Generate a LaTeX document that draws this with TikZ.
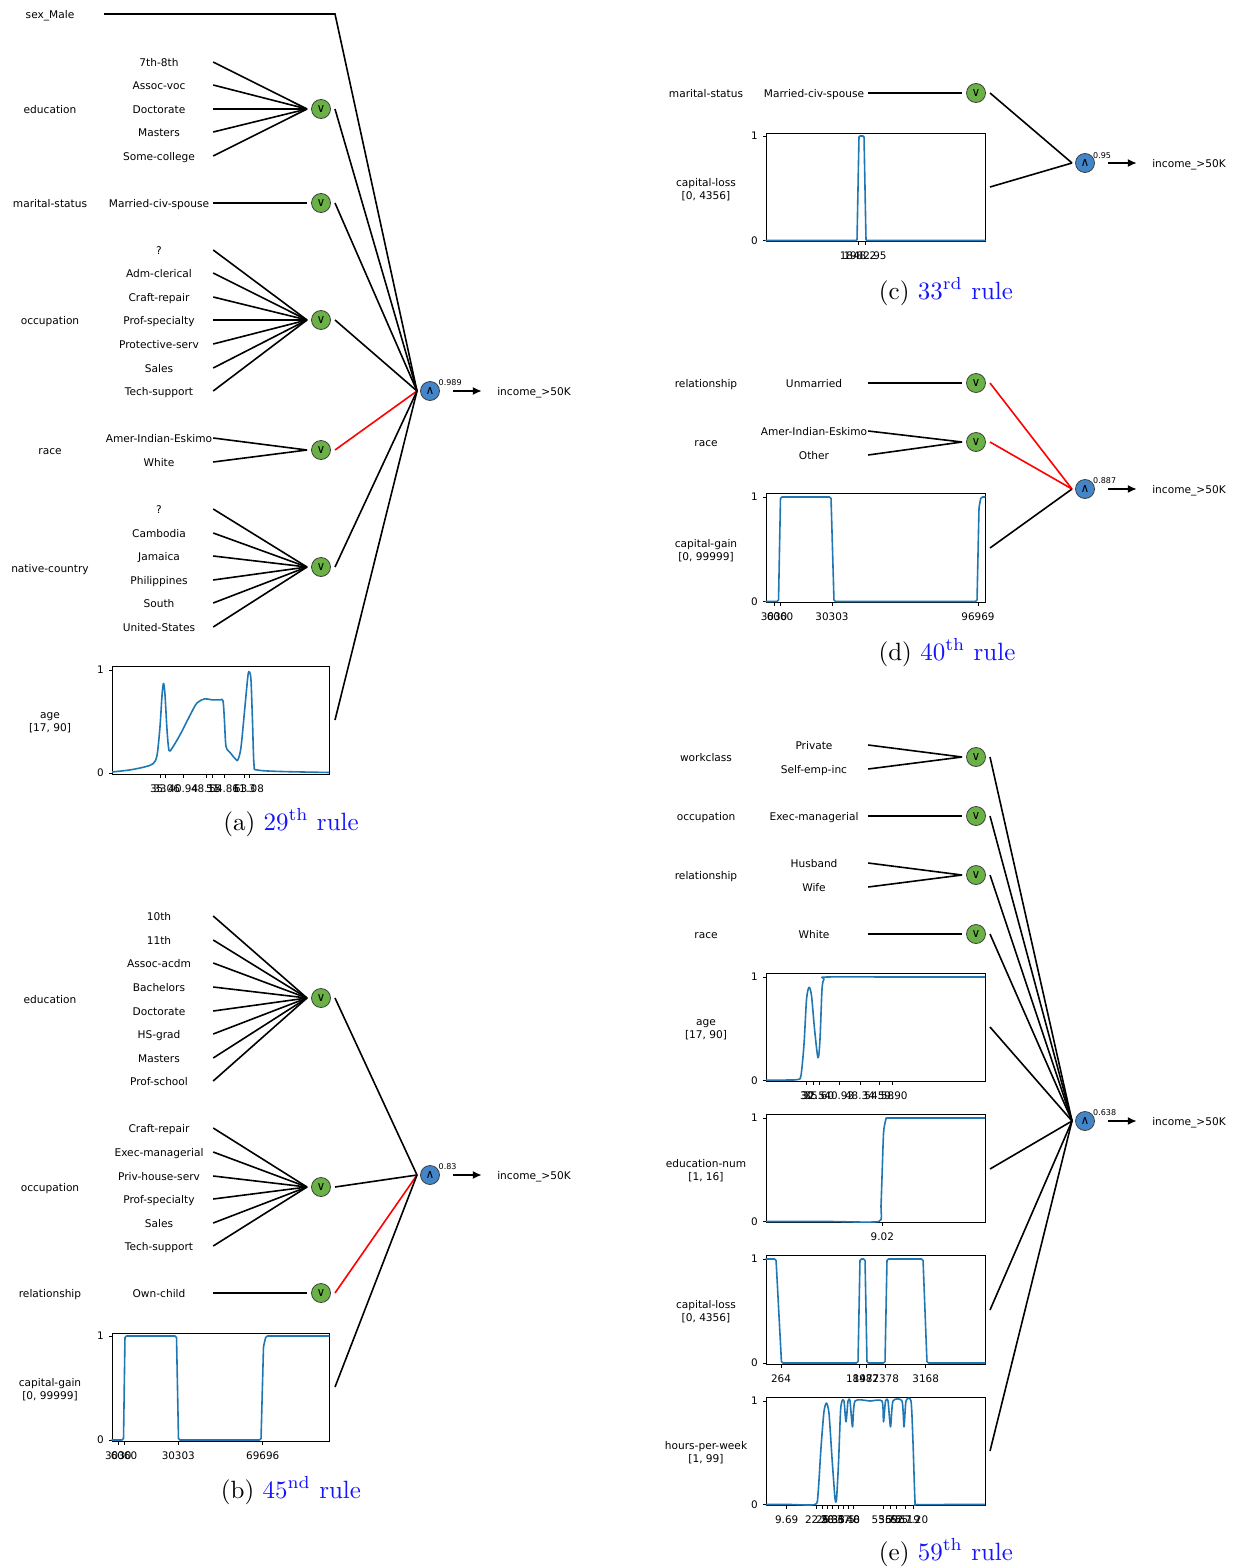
\documentclass[tikz,border=0pt]{standalone}
\usepackage{fontspec}
\usepackage{graphicx}
\usetikzlibrary{arrows.meta}
\newfontfamily\mplfont{DejaVu Sans}
\definecolor{orgreen}{RGB}{106,178,70}
\definecolor{andblue}{RGB}{66,133,200}
\definecolor{curveblue}{RGB}{31,119,180}
\definecolor{capblue}{RGB}{20,20,255}
\newcounter{tk}

\tikzset{
  lbl/.style={font=\mplfont\fontsize{10.6}{13}\selectfont, inner sep=0pt, text height=11.8pt, text depth=2.2pt},
  feat/.style={lbl, minimum width=108pt},
  featm/.style={font=\mplfont\fontsize{10.6}{13}\selectfont, inner sep=0pt, align=center, yshift=-2pt},
  val/.style={lbl, minimum width=108pt},
  ornode/.style={circle, draw=black!75, fill=orgreen, minimum size=19pt, inner sep=0pt,
                 outer sep=4.5pt, line width=0.8pt, font=\mplfont\fontsize{12}{12}\selectfont},
  andnode/.style={circle, draw=black!75, fill=andblue, minimum size=19pt, inner sep=0pt,
                 outer sep=3.5pt, line width=0.8pt, font=\mplfont\fontsize{12}{12}\selectfont},
  wire/.style={line width=1.6pt, black},
  redwire/.style={line width=1.6pt, red},
  outarrow/.style={line width=1.6pt, black, -{Latex[length=9pt,width=8pt]}},
  weightlbl/.style={font=\mplfont\fontsize{8}{9}\selectfont, anchor=west, inner sep=0pt, text height=5.8pt, text depth=0pt},
  frame/.style={line width=0.9pt, black},
  tickln/.style={line width=0.9pt, black},
  ticklbl/.style={font=\mplfont\fontsize{10.4}{12}\selectfont, inner sep=0pt, text height=7.6pt, text depth=0pt},
  curve/.style={curveblue, line width=1.6pt, line join=round, line cap=round},
  captext/.style={font=\fontsize{10}{12}\selectfont, anchor=base, inner sep=0pt},
}

% sub-figure caption, set at 10pt and enlarged
\newcommand\subcap[3]{\scalebox{2.5}{(#1) \textcolor{capblue}{#2\textsuperscript{#3} rule}}}
% one tick below the x axis with its label
\newcommand\xtk[3]{\stepcounter{tk}%
  \draw[tickln] (#1,#2) -- (#1,#2+3.5);
  \node[ticklbl] (tk\thetk) at (#1,#2+15) {#3};}
% one tick left of the y axis with its label
\newcommand\ytk[3]{\stepcounter{tk}%
  \draw[tickln] (#1,#2) -- (#1-3.5,#2);
  \node[ticklbl, anchor=east] (tk\thetk) at (#1-8,#2) {#3};}
% axes frame: left, top, right, bottom, level of 1, level of 0
\newcommand\axesbox[6]{%
  \draw[frame] (#1,#2) rectangle (#3,#4);
  \ytk{#1}{#5}{1}\ytk{#1}{#6}{0}}
% values fanning into an OR node: prefix, x, OR node, list of text/y
\newcommand\valuefan[4]{%
  \foreach \vtext/\yy [count=\i] in {#4} {%
    \node[val] (#1-\i) at (#2,\yy) {\vtext};
    \draw[wire] (#1-\i.east) -- (#3.west);}}

\begin{document}
\begin{tikzpicture}[x=1pt,y=-1pt]
\fill[white] (0,0) rectangle (1236,1568);
\useasboundingbox (0,0) rectangle (1236,1568);

%% ---------------- (a) 29th rule ----------------
\node[andnode] (aA) at (430,391) {∧};
\node[weightlbl] (wA) at (438.5,383) {0.989};
\node[lbl, minimum width=104pt] (incA) at (534,391) {income\_>50K};
\draw[outarrow] ([xshift=10pt]aA.east) -- (incA.west);

\node[feat] (fA0) at (50,14) {sex\_Male};
\coordinate (bendA) at (335,14);
\draw[wire] (fA0.east) -- (bendA) -- (aA.west);

\node[feat] (fA1) at (50,109) {education};
\node[ornode] (oA1) at (321,109) {∨};
\valuefan{vA1}{159}{oA1}{7th-8th/62, Assoc-voc/85, Doctorate/109, Masters/132, Some-college/156}
\draw[wire] (oA1.east) -- (aA.west);

\node[feat] (fA2) at (50,203) {marital-status};
\node[ornode] (oA2) at (321,203) {∨};
\valuefan{vA2}{159}{oA2}{Married-civ-spouse/203}
\draw[wire] (oA2.east) -- (aA.west);

\node[feat] (fA3) at (50,320) {occupation};
\node[ornode] (oA3) at (321,320) {∨};
\valuefan{vA3}{159}{oA3}{?/250, Adm-clerical/273, Craft-repair/297, Prof-specialty/320, Protective-serv/344, Sales/368, Tech-support/391}
\draw[wire] (oA3.east) -- (aA.west);

\node[feat] (fA4) at (50,450) {race};
\node[ornode] (oA4) at (321,450) {∨};
\valuefan{vA4}{159}{oA4}{Amer-Indian-Eskimo/438, White/462}
\draw[redwire] (oA4.east) -- (aA.west);

\node[feat] (fA5) at (50,568) {native-country};
\node[ornode] (oA5) at (321,567) {∨};
\valuefan{vA5}{159}{oA5}{?/509, Cambodia/533, Jamaica/556, Philippines/580, South/603, United-States/627}
\draw[wire] (oA5.east) -- (aA.west);

\node[featm] (fA6) at (50,721) {age\\{}[17, 90]};
\axesbox{112}{666}{329}{774}{670}{773}
\begin{scope}[yshift=-773pt, y={(0pt,103pt)}]
  \clip (112,-0.05) rectangle (329,1.04);
  \draw[curve] plot[smooth, tension=0.5] coordinates {
    (112,0.01) (130,0.03) (145,0.06) (153,0.09) (157,0.17) (160,0.45) (162,0.75)
    (163.5,0.87) (165,0.76) (167,0.42) (169,0.22) (172,0.24) (180,0.37) (190,0.56)
    (197,0.68) (205,0.72) (212,0.71) (220,0.71) (223,0.70) (224.5,0.5) (226,0.26)
    (230,0.2) (236,0.13) (238,0.13) (241,0.25) (245,0.65) (248,0.95) (249.5,0.98)
    (251,0.9) (252.5,0.5) (254,0.08) (257,0.03) (280,0.015) (329,0.005)};
\end{scope}
\xtk{160}{774}{33}\xtk{165}{774}{35.06}\xtk{183.3}{774}{40.94}\xtk{206}{774}{48.15}
\xtk{212.7}{774}{51}\xtk{224.3}{774}{54.81}\xtk{244}{774}{61.3}\xtk{249}{774}{63.08}
\coordinate (pA) at (335,720);
\draw[wire] (pA) -- (aA.west);

\node[captext] (capA) at (291,830) {\subcap{a}{29}{th}};

%% ---------------- (b) 45nd rule ----------------
\node[andnode] (aB) at (430,1175) {∧};
\node[weightlbl] (wB) at (438.5,1167) {0.83};
\node[lbl, minimum width=104pt] (incB) at (534,1175) {income\_>50K};
\draw[outarrow] ([xshift=10pt]aB.east) -- (incB.west);

\node[feat] (fB1) at (50,999) {education};
\node[ornode] (oB1) at (321,998) {∨};
\valuefan{vB1}{159}{oB1}{10th/916, 11th/940, Assoc-acdm/963, Bachelors/987, Doctorate/1011, HS-grad/1034, Masters/1058, Prof-school/1081}
\draw[wire] (oB1.east) -- (aB.west);

\node[feat] (fB2) at (50,1187) {occupation};
\node[ornode] (oB2) at (321,1187) {∨};
\valuefan{vB2}{159}{oB2}{Craft-repair/1128, Exec-managerial/1152, Priv-house-serv/1176, Prof-specialty/1199, Sales/1223, Tech-support/1246}
\draw[wire] (oB2.east) -- (aB.west);

\node[feat] (fB3) at (50,1293) {relationship};
\node[ornode] (oB3) at (321,1293) {∨};
\valuefan{vB3}{159}{oB3}{Own-child/1293}
\draw[redwire] (oB3.east) -- (aB.west);

\node[featm] (fB4) at (50,1388) {capital-gain\\{}[0, 99999]};
\axesbox{112}{1333}{329}{1441}{1336}{1440}
\begin{scope}[yshift=-1440pt, y={(0pt,104pt)}]
  \draw[curve, rounded corners=1.5pt] (112,0) -- (123.5,0) -- (125,1) -- (176.5,1) -- (178.5,0)
    -- (261,0) -- (263.5,0.9) -- (266,1) -- (329,1);
\end{scope}
\xtk{118.3}{1441}{3030}\xtk{124}{1441}{6060}\xtk{178.3}{1441}{30303}\xtk{262.7}{1441}{69696}
\coordinate (pB) at (335,1387);
\draw[wire] (pB) -- (aB.west);

\node[captext] (capB) at (291,1498) {\subcap{b}{45}{nd}};

%% ---------------- (c) 33rd rule ----------------
\node[andnode] (aC) at (1085,163) {∧};
\node[weightlbl] (wC) at (1093,156) {0.95};
\node[lbl, minimum width=104pt] (incC) at (1189,163) {income\_>50K};
\draw[outarrow] ([xshift=10pt]aC.east) -- (incC.west);

\node[feat] (fC1) at (706,93) {marital-status};
\node[ornode] (oC1) at (976,93) {∨};
\valuefan{vC1}{814}{oC1}{Married-civ-spouse/93}
\draw[wire] (oC1.east) -- (aC.west);

\node[featm] (fC2) at (706,188) {capital-loss\\{}[0, 4356]};
\axesbox{766}{133}{985}{241}{136}{240.5}
\begin{scope}[yshift=-240.5pt, y={(0pt,104.5pt)}]
  \draw[curve, rounded corners=1pt] (766,0) -- (857,0) -- (859,1) -- (864,1) -- (866,0) -- (985,0);
\end{scope}
\xtk{858}{241}{1848.2}\xtk{865}{241}{1982.95}
\coordinate (pC) at (990,187);
\draw[wire] (pC) -- (aC.west);

\node[captext] (capC) at (946,299) {\subcap{c}{33}{rd}};

%% ---------------- (d) 40th rule ----------------
\node[andnode] (aD) at (1085,489) {∧};
\node[weightlbl] (wD) at (1093,481) {0.887};
\node[lbl, minimum width=104pt] (incD) at (1189,489) {income\_>50K};
\draw[outarrow] ([xshift=10pt]aD.east) -- (incD.west);

\node[feat] (fD1) at (706,383) {relationship};
\node[ornode] (oD1) at (976,383) {∨};
\valuefan{vD1}{814}{oD1}{Unmarried/383}
\draw[redwire] (oD1.east) -- (aD.west);

\node[feat] (fD2) at (706,442) {race};
\node[ornode] (oD2) at (976,442) {∨};
\valuefan{vD2}{814}{oD2}{Amer-Indian-Eskimo/431, Other/455}
\draw[redwire] (oD2.east) -- (aD.west);

\node[featm] (fD3) at (706,549) {capital-gain\\{}[0, 99999]};
\axesbox{766}{493}{985}{602}{497}{601.5}
\begin{scope}[yshift=-601.5pt, y={(0pt,104.5pt)}]
  \draw[curve, rounded corners=1.5pt] (766,0) -- (778.5,0) -- (780.5,1) -- (831,1) -- (834,0)
    -- (977,0) -- (979,0.9) -- (981,1) -- (985,1);
\end{scope}
\xtk{774}{602}{3030}\xtk{780}{602}{6060}\xtk{832}{602}{30303}\xtk{978}{602}{96969}
\coordinate (pD) at (990,548);
\draw[wire] (pD) -- (aD.west);

\node[captext] (capD) at (947,660) {\subcap{d}{40}{th}};

%% ---------------- (e) 59th rule ----------------
\node[andnode] (aE) at (1085,1121) {∧};
\node[weightlbl] (wE) at (1093,1113) {0.638};
\node[lbl, minimum width=104pt] (incE) at (1189,1121) {income\_>50K};
\draw[outarrow] ([xshift=10pt]aE.east) -- (incE.west);

\node[feat] (fE1) at (706,757) {workclass};
\node[ornode] (oE1) at (976,757) {∨};
\valuefan{vE1}{814}{oE1}{Private/745, Self-emp-inc/769}
\draw[wire] (oE1.east) -- (aE.west);

\node[feat] (fE2) at (706,816) {occupation};
\node[ornode] (oE2) at (976,816) {∨};
\valuefan{vE2}{814}{oE2}{Exec-managerial/816}
\draw[wire] (oE2.east) -- (aE.west);

\node[feat] (fE3) at (706,875) {relationship};
\node[ornode] (oE3) at (976,875) {∨};
\valuefan{vE3}{814}{oE3}{Husband/863, Wife/887}
\draw[wire] (oE3.east) -- (aE.west);

\node[feat] (fE4) at (706,934) {race};
\node[ornode] (oE4) at (976,934) {∨};
\valuefan{vE4}{814}{oE4}{White/934}
\draw[wire] (oE4.east) -- (aE.west);

% age
\node[featm] (fE5) at (706,1028) {age\\{}[17, 90]};
\axesbox{766}{973}{985}{1081}{977}{1080.5}
\begin{scope}[yshift=-1080.5pt, y={(0pt,103.5pt)}]
  \clip (766,-0.05) rectangle (985,1.04);
  \draw[curve] plot[smooth, tension=0.5] coordinates {
    (766,0.003) (790,0.005) (798,0.01) (801,0.05) (804,0.35) (806.5,0.78) (809,0.9)
    (811.5,0.82) (814.5,0.5) (818,0.22) (820,0.4) (822,0.88) (824,0.98) (827,1) (900,1) (985,1)};
\end{scope}
\xtk{806.7}{1081}{30}\xtk{813.3}{1081}{32.5}\xtk{819.3}{1081}{35.60}\xtk{839.3}{1081}{40.93}
\xtk{860}{1081}{48.34}\xtk{879.3}{1081}{54.58}\xtk{892.7}{1081}{59.90}
\coordinate (pE5) at (990,1027);
\draw[wire] (pE5) -- (aE.west);

% education-num
\node[featm] (fE6) at (706,1169) {education-num\\{}[1, 16]};
\axesbox{766}{1114}{985}{1222}{1118}{1221.5}
\begin{scope}[yshift=-1221.5pt, y={(0pt,103.5pt)}]
  \clip (766,-0.05) rectangle (985,1.04);
  \draw[curve] plot[smooth, tension=0.3] coordinates {
    (766,0) (830,0) (879,0) (881,0.15) (883.5,0.85) (886,0.99) (889,1) (940,1) (985,1)};
\end{scope}
\xtk{882.3}{1222}{9.02}
\coordinate (pE6) at (990,1169);
\draw[wire] (pE6) -- (aE.west);

% capital-loss
\node[featm] (fE7) at (706,1310) {capital-loss\\{}[0, 4356]};
\axesbox{766}{1255}{985}{1364}{1259}{1363}
\begin{scope}[yshift=-1363pt, y={(0pt,104pt)}]
  \draw[curve, rounded corners=1.5pt] (766,1) -- (776,1) -- (781.5,0) -- (858,0) -- (860,1)
    -- (865,1) -- (867,0) -- (885,0) -- (887,1) -- (923,1) -- (927,0) -- (985,0);
\end{scope}
\xtk{781}{1364}{264}\xtk{859.3}{1364}{1848}\xtk{866}{1364}{1977}\xtk{885.7}{1364}{2378}
\xtk{925.7}{1364}{3168}
\coordinate (pE7) at (990,1310);
\draw[wire] (pE7) -- (aE.west);

% hours-per-week
\node[featm] (fE8) at (706,1451) {hours-per-week\\{}[1, 99]};
\axesbox{766}{1397}{985}{1505}{1401}{1504.5}
\begin{scope}[yshift=-1504.5pt, y={(0pt,103.5pt)}]
  \clip (766,-0.05) rectangle (985,1.04);
  \draw[curve] plot[smooth, tension=0.4] coordinates {
    (766,0) (790,0) (815,0) (818,0.1) (821,0.55) (824,0.9) (826.5,0.98) (829,0.88)
    (832,0.45) (835,0.06) (836.5,0.05) (838.5,0.4) (840.5,0.9) (842,1) (844,1) (846,0.8)
    (848,1) (850,1) (852.5,0.75) (855,1) (870,1) (882,1) (883.5,0.8) (885.5,1) (888,1)
    (890.5,0.75) (893,1) (902,1) (904,0.75) (906,1) (911,1) (913,0.6) (915,0.03) (917,0)
    (950,0) (985,0)};
\end{scope}
\xtk{786.7}{1505}{9.69}\xtk{816.7}{1505}{22.5}\xtk{822.7}{1505}{26}\xtk{827.3}{1505}{28}
\xtk{832.7}{1505}{30.6}\xtk{838.3}{1505}{33}\xtk{843.3}{1505}{35.5}\xtk{848.3}{1505}{37.8}
\xtk{853.3}{1505}{40}\xtk{883.3}{1505}{53.7}\xtk{890}{1505}{56.5}\xtk{896.7}{1505}{59.5}
\xtk{905}{1505}{62.19}\xtk{913.3}{1505}{67.20}
\coordinate (pE8) at (990,1451);
\draw[wire] (pE8) -- (aE.west);

\node[captext] (capE) at (946,1560) {\subcap{e}{59}{th}};

\end{tikzpicture}
\end{document}
